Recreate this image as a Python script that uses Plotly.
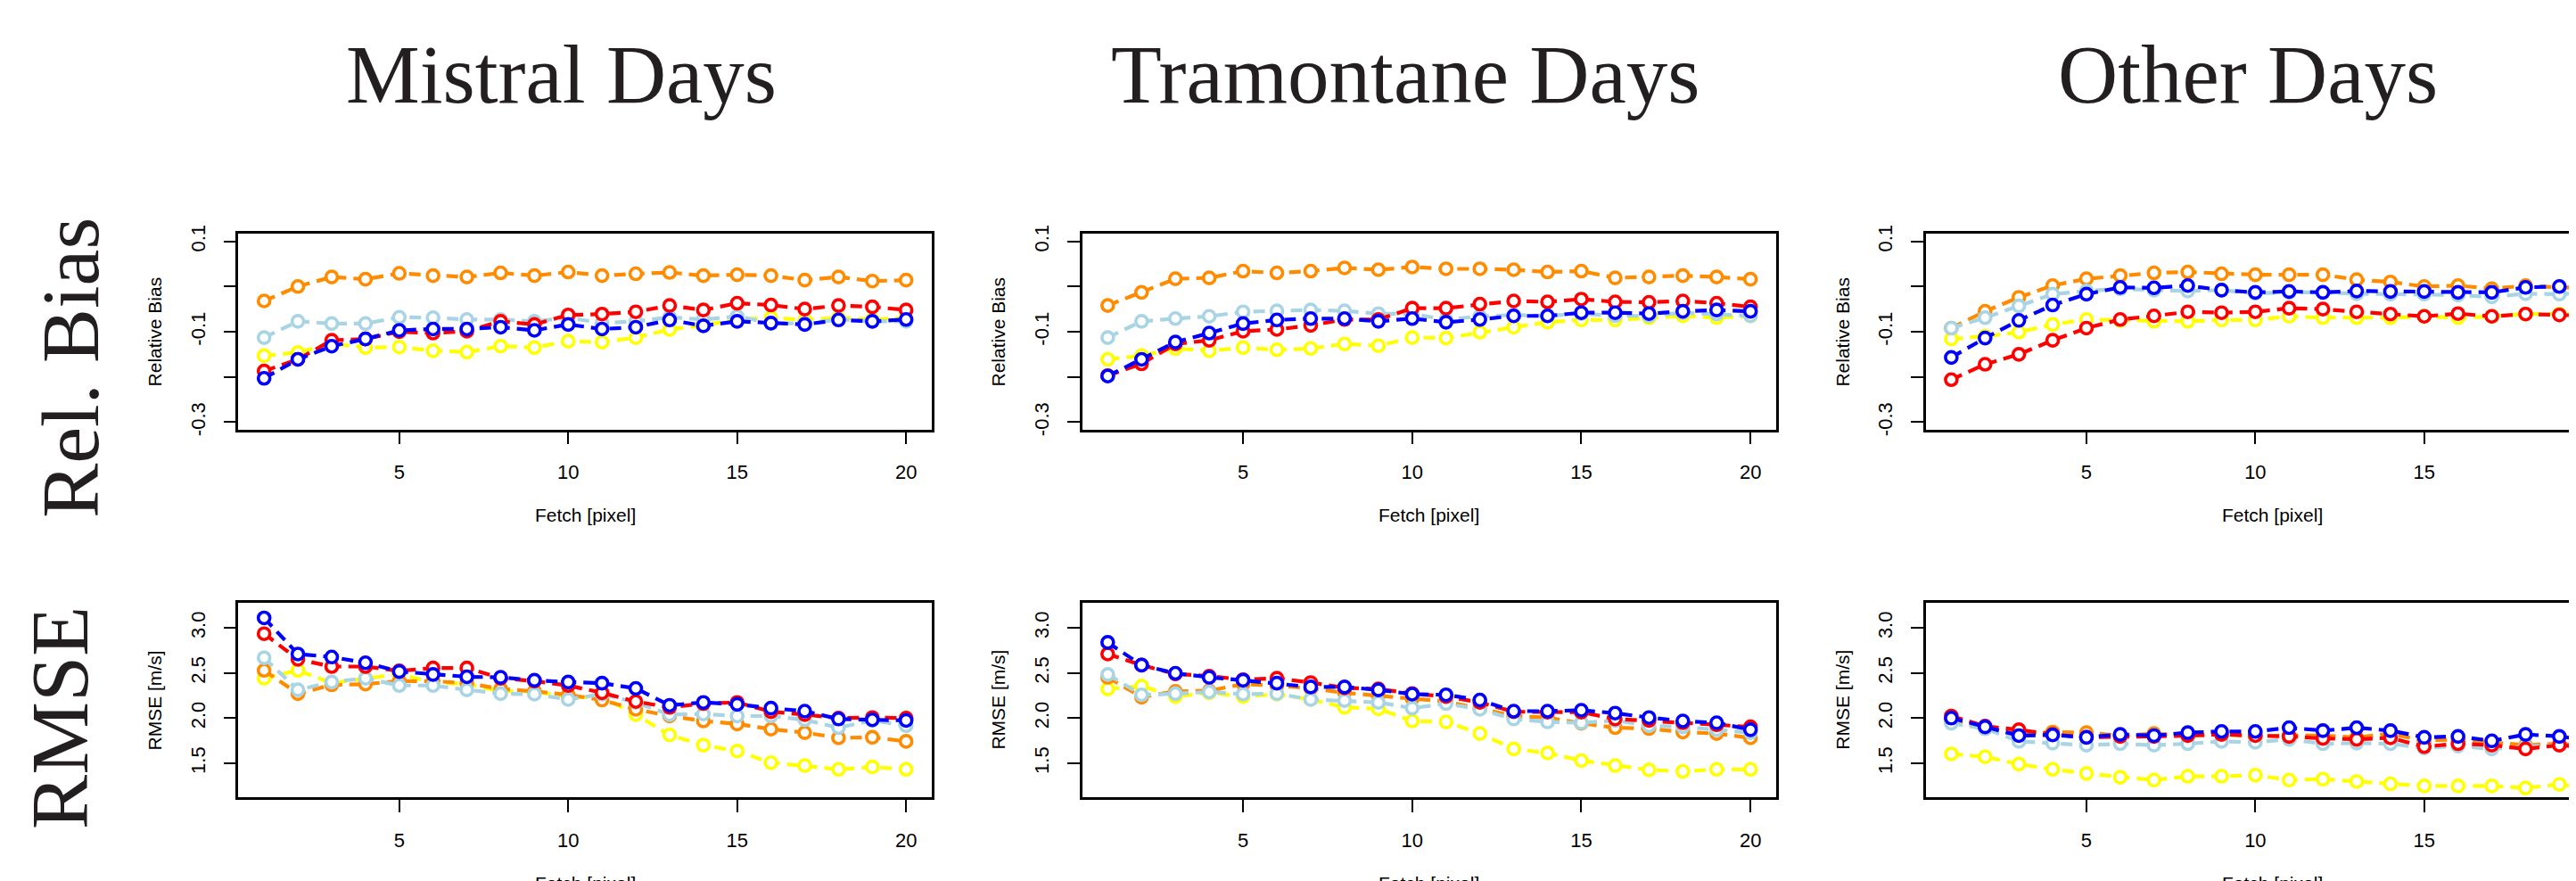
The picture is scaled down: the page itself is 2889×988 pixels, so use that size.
import plotly.graph_objects as go

# ---------------- data ----------------
fetch = list(range(1, 21))
days = ["Mistral Days", "Tramontane Days", "Other Days"]
rows = ["Rel. Bias", "RMSE"]
y_titles = ["Relative Bias", "RMSE [m/s]"]
x_title = "Fetch [pixel]"

series_names = ["yellow", "orange", "lightblue", "red", "blue"]
series_colors = ["#FFFF00", "#FF8C00", "#A8D4E4", "#FF0000", "#0000FF"]

bias_ticks = [-0.3, -0.2, -0.1, 0.0, 0.1]
bias_ticklabels = ["-0.3", "", "-0.1", "", "0.1"]
rmse_ticks = [1.5, 2.0, 2.5, 3.0]
rmse_ticklabels = ["1.5", "2.0", "2.5", "3.0"]
x_ticks = [5, 10, 15, 20]

# Mistral - relative bias
mis_bias_orange = [-0.032, 0.000, 0.021, 0.016, 0.029, 0.024, 0.021, 0.030, 0.024, 0.032, 0.024, 0.028, 0.031, 0.024, 0.026, 0.024, 0.014, 0.021, 0.012, 0.014]
mis_bias_red = [-0.187, -0.161, -0.119, -0.116, -0.100, -0.103, -0.099, -0.077, -0.084, -0.063, -0.061, -0.056, -0.042, -0.052, -0.037, -0.041, -0.050, -0.042, -0.045, -0.052]
mis_bias_blue = [-0.203, -0.161, -0.132, -0.116, -0.097, -0.094, -0.094, -0.090, -0.097, -0.084, -0.094, -0.090, -0.074, -0.087, -0.077, -0.081, -0.084, -0.074, -0.077, -0.073]
mis_bias_lightblue = [-0.113, -0.077, -0.082, -0.082, -0.068, -0.069, -0.073, -0.073, -0.077, -0.069, -0.081, -0.077, -0.068, -0.073, -0.066, -0.081, -0.082, -0.073, -0.077, -0.077]
mis_bias_yellow = [-0.153, -0.146, -0.126, -0.135, -0.134, -0.142, -0.145, -0.132, -0.135, -0.121, -0.123, -0.113, -0.095, -0.086, -0.073, -0.069, -0.074, -0.069, -0.073, -0.069]

# Mistral - RMSE
mis_rmse_blue = [3.110, 2.710, 2.677, 2.613, 2.516, 2.484, 2.458, 2.452, 2.419, 2.400, 2.387, 2.329, 2.142, 2.174, 2.152, 2.110, 2.077, 1.990, 1.981, 1.974]
mis_rmse_red = [2.935, 2.652, 2.571, 2.571, 2.523, 2.555, 2.555, 2.442, 2.410, 2.361, 2.281, 2.184, 2.119, 2.161, 2.174, 2.071, 2.039, 2.000, 2.006, 2.000]
mis_rmse_orange = [2.529, 2.271, 2.368, 2.377, 2.410, 2.410, 2.387, 2.323, 2.297, 2.258, 2.200, 2.097, 2.023, 1.968, 1.935, 1.877, 1.839, 1.781, 1.787, 1.742]
mis_rmse_lightblue = [2.668, 2.313, 2.400, 2.442, 2.361, 2.361, 2.313, 2.271, 2.265, 2.206, 2.265, 2.174, 2.039, 2.045, 2.023, 2.023, 1.981, 1.894, 1.974, 1.916]
mis_rmse_yellow = [2.442, 2.529, 2.387, 2.442, 2.490, 2.394, 2.377, 2.297, 2.297, 2.232, 2.232, 2.039, 1.813, 1.700, 1.635, 1.506, 1.474, 1.432, 1.458, 1.432]

# Tramontane - relative bias
tra_bias_orange = [-0.042, -0.013, 0.017, 0.019, 0.034, 0.030, 0.034, 0.041, 0.037, 0.043, 0.039, 0.039, 0.037, 0.032, 0.034, 0.019, 0.021, 0.024, 0.021, 0.016]
tra_bias_red = [-0.197, -0.171, -0.127, -0.119, -0.099, -0.095, -0.086, -0.073, -0.073, -0.048, -0.048, -0.039, -0.032, -0.034, -0.028, -0.034, -0.035, -0.032, -0.037, -0.045]
tra_bias_blue = [-0.198, -0.161, -0.123, -0.103, -0.082, -0.074, -0.071, -0.071, -0.077, -0.071, -0.079, -0.073, -0.065, -0.065, -0.058, -0.058, -0.060, -0.055, -0.052, -0.055]
tra_bias_lightblue = [-0.113, -0.077, -0.071, -0.066, -0.056, -0.054, -0.052, -0.054, -0.060, -0.061, -0.073, -0.066, -0.063, -0.065, -0.060, -0.065, -0.065, -0.058, -0.061, -0.065]
tra_bias_yellow = [-0.161, -0.153, -0.137, -0.142, -0.135, -0.140, -0.137, -0.127, -0.131, -0.113, -0.114, -0.101, -0.090, -0.079, -0.074, -0.074, -0.069, -0.065, -0.069, -0.065]

# Tramontane - RMSE
tra_rmse_blue = [2.839, 2.587, 2.497, 2.452, 2.419, 2.387, 2.345, 2.345, 2.313, 2.265, 2.258, 2.200, 2.077, 2.077, 2.087, 2.055, 2.006, 1.968, 1.948, 1.871]
tra_rmse_red = [2.710, 2.587, 2.490, 2.465, 2.426, 2.442, 2.394, 2.335, 2.323, 2.271, 2.239, 2.174, 2.071, 2.065, 2.065, 1.990, 1.974, 1.948, 1.926, 1.903]
tra_rmse_orange = [2.452, 2.232, 2.297, 2.303, 2.377, 2.361, 2.329, 2.281, 2.248, 2.216, 2.184, 2.103, 2.023, 2.006, 1.942, 1.894, 1.884, 1.845, 1.829, 1.781]
tra_rmse_lightblue = [2.484, 2.258, 2.271, 2.290, 2.265, 2.271, 2.206, 2.194, 2.174, 2.110, 2.161, 2.097, 1.990, 1.958, 1.948, 1.974, 1.916, 1.903, 1.871, 1.839]
tra_rmse_yellow = [2.323, 2.355, 2.239, 2.281, 2.239, 2.265, 2.206, 2.119, 2.103, 1.968, 1.958, 1.829, 1.658, 1.613, 1.529, 1.474, 1.426, 1.410, 1.432, 1.432]

# Other days - relative bias
oth_bias_orange = [-0.092, -0.055, -0.024, 0.002, 0.017, 0.024, 0.030, 0.032, 0.028, 0.026, 0.026, 0.026, 0.015, 0.010, 0.000, 0.002, -0.005, 0.002, -0.002, -0.003]
oth_bias_blue = [-0.157, -0.114, -0.075, -0.041, -0.017, -0.002, -0.003, 0.002, -0.008, -0.013, -0.011, -0.013, -0.010, -0.011, -0.011, -0.013, -0.013, -0.002, 0.000, -0.003]
oth_bias_lightblue = [-0.092, -0.069, -0.043, -0.017, -0.010, -0.005, -0.008, -0.010, -0.008, -0.015, -0.013, -0.013, -0.016, -0.017, -0.017, -0.019, -0.023, -0.016, -0.017, -0.013]
oth_bias_red = [-0.206, -0.172, -0.150, -0.119, -0.092, -0.073, -0.065, -0.056, -0.058, -0.056, -0.048, -0.050, -0.056, -0.061, -0.066, -0.060, -0.066, -0.061, -0.063, -0.065]
oth_bias_yellow = [-0.116, -0.110, -0.101, -0.084, -0.073, -0.075, -0.077, -0.077, -0.074, -0.074, -0.066, -0.069, -0.069, -0.069, -0.066, -0.069, -0.066, -0.061, -0.061, -0.060]

# Other days - RMSE
oth_rmse_blue = [2.000, 1.903, 1.806, 1.813, 1.787, 1.819, 1.806, 1.839, 1.852, 1.852, 1.894, 1.861, 1.894, 1.861, 1.787, 1.797, 1.748, 1.819, 1.797, 1.748]
oth_rmse_red = [2.023, 1.910, 1.871, 1.819, 1.787, 1.797, 1.797, 1.806, 1.819, 1.806, 1.797, 1.774, 1.765, 1.781, 1.684, 1.716, 1.700, 1.658, 1.700, 1.677]
oth_rmse_orange = [1.974, 1.884, 1.829, 1.845, 1.839, 1.806, 1.829, 1.806, 1.819, 1.797, 1.806, 1.806, 1.787, 1.829, 1.748, 1.765, 1.732, 1.700, 1.716, 1.684]
oth_rmse_lightblue = [1.942, 1.884, 1.742, 1.723, 1.700, 1.716, 1.700, 1.716, 1.742, 1.732, 1.765, 1.716, 1.723, 1.716, 1.668, 1.690, 1.658, 1.684, 1.700, 1.668]
oth_rmse_yellow = [1.603, 1.571, 1.490, 1.432, 1.387, 1.345, 1.313, 1.355, 1.355, 1.368, 1.313, 1.323, 1.297, 1.271, 1.248, 1.248, 1.248, 1.226, 1.265, 1.226]

panels = [
    # row 0: relative bias
    [
        [mis_bias_yellow, mis_bias_orange, mis_bias_lightblue, mis_bias_red, mis_bias_blue],
        [tra_bias_yellow, tra_bias_orange, tra_bias_lightblue, tra_bias_red, tra_bias_blue],
        [oth_bias_yellow, oth_bias_orange, oth_bias_lightblue, oth_bias_red, oth_bias_blue],
    ],
    # row 1: RMSE
    [
        [mis_rmse_yellow, mis_rmse_orange, mis_rmse_lightblue, mis_rmse_red, mis_rmse_blue],
        [tra_rmse_yellow, tra_rmse_orange, tra_rmse_lightblue, tra_rmse_red, tra_rmse_blue],
        [oth_rmse_yellow, oth_rmse_orange, oth_rmse_lightblue, oth_rmse_red, oth_rmse_blue],
    ],
]

# ---------------- layout geometry (pixels) ----------------
W, H = 2889, 988
col_px = [(259.4, 1037.0), (1205.5, 1984.0), (2151.6, 2929.0)]
row_px = [(248.7, 471.7), (669.3, 891.7)]
x_full = (0.24, 20.76)
y_ranges = [(-0.316, 0.116), (1.12, 3.28)]

SANS = "Liberation Sans, Arial, Helvetica, sans-serif"
SERIF = "Liberation Serif, Times New Roman, serif"


def px_x(p):
    return p / W


def px_y(p):
    return (H - p) / H


fig = go.Figure()
layout = dict(
    width=W, height=H,
    margin=dict(l=0, r=0, t=0, b=0),
    paper_bgcolor="white", plot_bgcolor="white",
    showlegend=False,
)
annotations = []

for r in range(2):
    for c in range(3):
        idx = r * 3 + c + 1
        xa = "xaxis" if idx == 1 else f"xaxis{idx}"
        ya = "yaxis" if idx == 1 else f"yaxis{idx}"
        xref = "x" if idx == 1 else f"x{idx}"
        yref = "y" if idx == 1 else f"y{idx}"
        left, right = col_px[c]
        top, bottom = row_px[r]
        # clip last column at the page edge
        vis_right = min(right, W)
        xr1 = x_full[0] + (vis_right - left) / (right - left) * (x_full[1] - x_full[0])
        layout[xa] = dict(
            domain=[px_x(left), px_x(vis_right)], anchor=yref,
            range=[x_full[0], xr1], tickvals=x_ticks,
            ticktext=[str(v) for v in x_ticks],
            showline=True, linecolor="black", linewidth=2.5, mirror=True,
            ticks="outside", ticklen=14, tickwidth=1.5, tickcolor="black",
            showgrid=False, zeroline=False,
            tickfont=dict(family=SANS, size=22, color="black"),
            ticklabelstandoff=12,
        )
        layout[ya] = dict(
            domain=[px_y(bottom), px_y(top)], anchor=xref,
            range=list(y_ranges[r]),
            tickvals=bias_ticks if r == 0 else rmse_ticks,
            ticktext=bias_ticklabels if r == 0 else rmse_ticklabels,
            tickangle=-90,
            showline=True, linecolor="black", linewidth=2.5, mirror=(c < 2),
            ticks="outside", ticklen=14, tickwidth=1.5, tickcolor="black",
            showgrid=False, zeroline=False,
            tickfont=dict(family=SANS, size=22, color="black"),
            ticklabelstandoff=12,
        )
        for s, ys in enumerate(panels[r][c]):
            fig.add_trace(go.Scatter(
                x=fetch, y=ys, xaxis=xref, yaxis=yref,
                mode="lines+markers", name=series_names[s],
                line=dict(color=series_colors[s], width=4.2, dash="13px,8px"),
                marker=dict(symbol="circle", size=13, color="white",
                            line=dict(color=series_colors[s], width=3.6)),
                cliponaxis=True, hoverinfo="skip",
            ))
        # axis titles
        annotations.append(dict(
            text=y_titles[r], xref="paper", yref="paper",
            x=px_x(left - 94), y=px_y((top + bottom) / 2),
            textangle=-90, showarrow=False, xanchor="center", yanchor="middle",
            font=dict(family=SANS, size=21, color="black"),
        ))
        annotations.append(dict(
            text=x_title, xref="paper", yref="paper",
            x=px_x((left + right) / 2), y=px_y(bottom + 97.5),
            showarrow=False, xanchor="center", yanchor="middle",
            font=dict(family=SANS, size=21, color="black"),
        ))

# column titles
title_cx = [621, 1568, 2513]
for c in range(3):
    annotations.append(dict(
        text=days[c], xref="paper", yref="paper",
        x=px_x(title_cx[c]), y=px_y(67), showarrow=False,
        xanchor="center", yanchor="middle",
        font=dict(family=SERIF, size=93, color="#231F20"),
    ))

# row labels
row_cx = [71, 59]
row_cy = [402, 801]
for r in range(2):
    annotations.append(dict(
        text=rows[r], xref="paper", yref="paper",
        x=px_x(row_cx[r]), y=px_y(row_cy[r]), textangle=-90, showarrow=False,
        xanchor="center", yanchor="middle",
        font=dict(family=SERIF, size=92, color="#231F20"),
    ))

layout["annotations"] = annotations
fig.update_layout(**layout)
fig.write_html("out.html")
